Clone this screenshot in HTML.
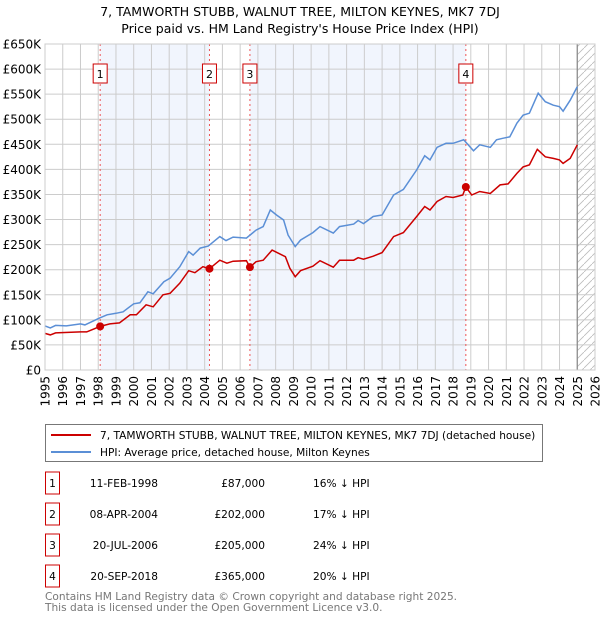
<!DOCTYPE html>
<html><head><meta charset="utf-8"><style>
body{margin:0;background:#fff;font-family:"Liberation Sans","DejaVu Sans",sans-serif;}
svg text{font-family:"DejaVu Sans","Liberation Sans",sans-serif;}
</style></head><body>
<svg id="c" width="600" height="620" xmlns="http://www.w3.org/2000/svg"></svg>
<script>
const blueYears=[1995.0,1995.3,1995.6,1996.2,1997.0,1997.25,1998.1,1998.5,1999.0,1999.4,2000.0,2000.35,2000.8,2001.1,2001.7,2002.05,2002.6,2003.1,2003.35,2003.75,2004.2,2004.85,2005.2,2005.6,2006.35,2006.9,2007.3,2007.7,2008.05,2008.45,2008.7,2009.1,2009.4,2010.1,2010.5,2011.25,2011.6,2012.4,2012.65,2012.95,2013.5,2014.0,2014.65,2015.2,2015.95,2016.4,2016.7,2017.1,2017.6,2018.0,2018.6,2019.15,2019.5,2020.1,2020.45,2020.8,2021.2,2021.6,2021.95,2022.3,2022.8,2023.2,2023.65,2024.0,2024.2,2024.6,2025.0];
const blueValues=[88,84,89,88,92,90,104,110,113,116,132,134,156,152,176,183,206,236,229,243,247,266,258,265,263,279,286,319,309,299,269,246,259,274,286,273,286,291,298,292,306,309,349,360,399,427,419,444,452,452,459,437,449,444,459,462,465,492,508,512,552,535,528,525,516,538,565];
const redYears=[1995.0,1995.3,1995.6,1997.0,1997.35,1998.11,1998.65,1999.2,1999.8,2000.15,2000.7,2001.1,2001.65,2002.05,2002.6,2003.1,2003.45,2003.9,2004.27,2004.85,2005.25,2005.6,2006.35,2006.55,2006.9,2007.3,2007.8,2008.25,2008.55,2008.8,2009.1,2009.4,2010.1,2010.5,2011.25,2011.6,2012.4,2012.65,2012.95,2013.5,2014.0,2014.65,2015.2,2015.95,2016.4,2016.7,2017.1,2017.6,2018.0,2018.55,2018.72,2019.05,2019.5,2020.1,2020.65,2021.1,2021.6,2021.95,2022.3,2022.75,2023.2,2023.65,2024.0,2024.2,2024.6,2025.0];
const redValues=[73,70,74,76,76,87,92,94,110,110,130,126,150,153,173,198,194,206,202,219,213,217,218,205,216,219,239,231,226,203,186,198,207,218,205,219,219,224,221,227,234,266,274,306,326,319,336,346,344,349,365,349,356,352,369,371,392,405,409,440,425,422,419,412,422,449];
const saleYears=[1998.11,2004.27,2006.55,2018.72];
const salePrices=[87,202,205,365];
const saleLabels=["1","2","3","4"];
const yTicks=[0,50,100,150,200,250,300,350,400,450,500,550,600,650];
const xTicks=[1995,1996,1997,1998,1999,2000,2001,2002,2003,2004,2005,2006,2007,2008,2009,2010,2011,2012,2013,2014,2015,2016,2017,2018,2019,2020,2021,2022,2023,2024,2025,2026];
const saleDates=["11-FEB-1998","08-APR-2004","20-JUL-2006","20-SEP-2018"];
const salePriceText=["£87,000","£202,000","£205,000","£365,000"];
const saleDiff=["16% ↓ HPI","17% ↓ HPI","24% ↓ HPI","20% ↓ HPI"];

const L=45,R=595,T=44,B=370;
const X=y=>L+(y-1995)/(2026-1995)*(R-L);
const Y=v=>B-v/650*(B-T);
const svg=document.getElementById('c');
const NS='http://www.w3.org/2000/svg';
function mk(tag,at,txt){const e=document.createElementNS(NS,tag);for(const k in at)e.setAttribute(k,at[k]);if(txt!=null)e.textContent=txt;svg.appendChild(e);return e;}

let e;
e=mk('text',{x:300,y:16,'text-anchor':'middle','font-size':12.5},'7, TAMWORTH STUBB, WALNUT TREE, MILTON KEYNES, MK7 7DJ');


e=mk('text',{x:300,y:33,'text-anchor':'middle','font-size':12.5},"Price paid vs. HM Land Registry's House Price Index (HPI)");



const bands=[[0,1],[2,3]];
bands.forEach(b=>{e=mk('rect',{x:X(saleYears[b[0]]),y:T,width:X(saleYears[b[1]])-X(saleYears[b[0]]),height:B-T,fill:'#eef3fc',opacity:0.8});

});
const defs=mk('defs',{});
defs.innerHTML='<pattern id="h" width="8" height="8" patternUnits="userSpaceOnUse"><path d="M0,8 L8,0" stroke="#bbb" stroke-width="0.8"/></pattern>';
e=mk('rect',{x:X(2025),y:T,width:R-X(2025),height:B-T,fill:'url(#h)'});


yTicks.forEach(v=>{e=mk('line',{x1:L,x2:R,y1:Y(v),y2:Y(v),stroke:'#ccc'});


e=mk('text',{x:L-4,y:Y(v)+4.5,'text-anchor':'end','font-size':12},v==0?'£0':'£'+v+'K');

});
xTicks.forEach(y=>{e=mk('line',{x1:X(y),x2:X(y),y1:T,y2:B,stroke:'#ccc'});


e=mk('text',{x:0,y:0,'text-anchor':'end','font-size':12,transform:`translate(${X(y)+4.5},${B+6}) rotate(-90)`},String(y));

});
e=mk('line',{x1:X(2025),x2:X(2025),y1:T,y2:B,stroke:'#888','stroke-width':1.2});


saleYears.forEach((s,i)=>{e=mk('line',{x1:X(s),x2:X(s),y1:T,y2:B,stroke:'#e55','stroke-dasharray':'2,3','stroke-width':1});


e=mk('rect',{x:X(s)-7,y:64,width:14,height:19,fill:'#fff',stroke:'#c00'});


e=mk('text',{x:X(s),y:78,'text-anchor':'middle','font-size':11},saleLabels[i]);

});
e=mk('path',{d:blueYears.map((y,i)=>(i?'L':'M')+X(y).toFixed(1)+','+Y(blueValues[i]).toFixed(1)).join(''),fill:'none',stroke:'#5b8fd6','stroke-width':1.5});


e=mk('path',{d:redYears.map((y,i)=>(i?'L':'M')+X(y).toFixed(1)+','+Y(redValues[i]).toFixed(1)).join(''),fill:'none',stroke:'#cc0000','stroke-width':1.5});


saleYears.forEach((s,i)=>{e=mk('circle',{cx:X(s),cy:Y(salePrices[i]),r:4,fill:'#cc0000'});

});
e=mk('rect',{x:L,y:T,width:R-L,height:B-T,fill:'none',stroke:'#ccc'});



e=mk('rect',{x:45.5,y:424.5,width:497,height:37,fill:'#fff',stroke:'#777'});


e=mk('line',{x1:51,x2:91,y1:435,y2:435,stroke:'#cc0000','stroke-width':2});


e=mk('text',{x:100,y:439,'font-size':10.6},'7, TAMWORTH STUBB, WALNUT TREE, MILTON KEYNES, MK7 7DJ (detached house)');


e=mk('line',{x1:51,x2:91,y1:452,y2:452,stroke:'#5b8fd6','stroke-width':2});


e=mk('text',{x:100,y:456,'font-size':10.6},'HPI: Average price, detached house, Milton Keynes');



saleDates.forEach((d,i)=>{const cy=483+i*31;
e=mk('rect',{x:45.5,y:cy-11,width:14,height:22,fill:'#fff',stroke:'#c00'});


e=mk('text',{x:52.5,y:cy+4,'text-anchor':'middle','font-size':10.6},saleLabels[i]);


e=mk('text',{x:158,y:cy+4,'text-anchor':'end','font-size':10.6},d);


e=mk('text',{x:265,y:cy+4,'text-anchor':'end','font-size':10.6},salePriceText[i]);


e=mk('text',{x:313,y:cy+4,'font-size':10.6},saleDiff[i]);

});
e=mk('text',{x:45,y:600,'font-size':10.6,fill:'#777'},'Contains HM Land Registry data © Crown copyright and database right 2025.');


e=mk('text',{x:45,y:611,'font-size':10.6,fill:'#777'},'This data is licensed under the Open Government Licence v3.0.');


</script>
</body></html>
